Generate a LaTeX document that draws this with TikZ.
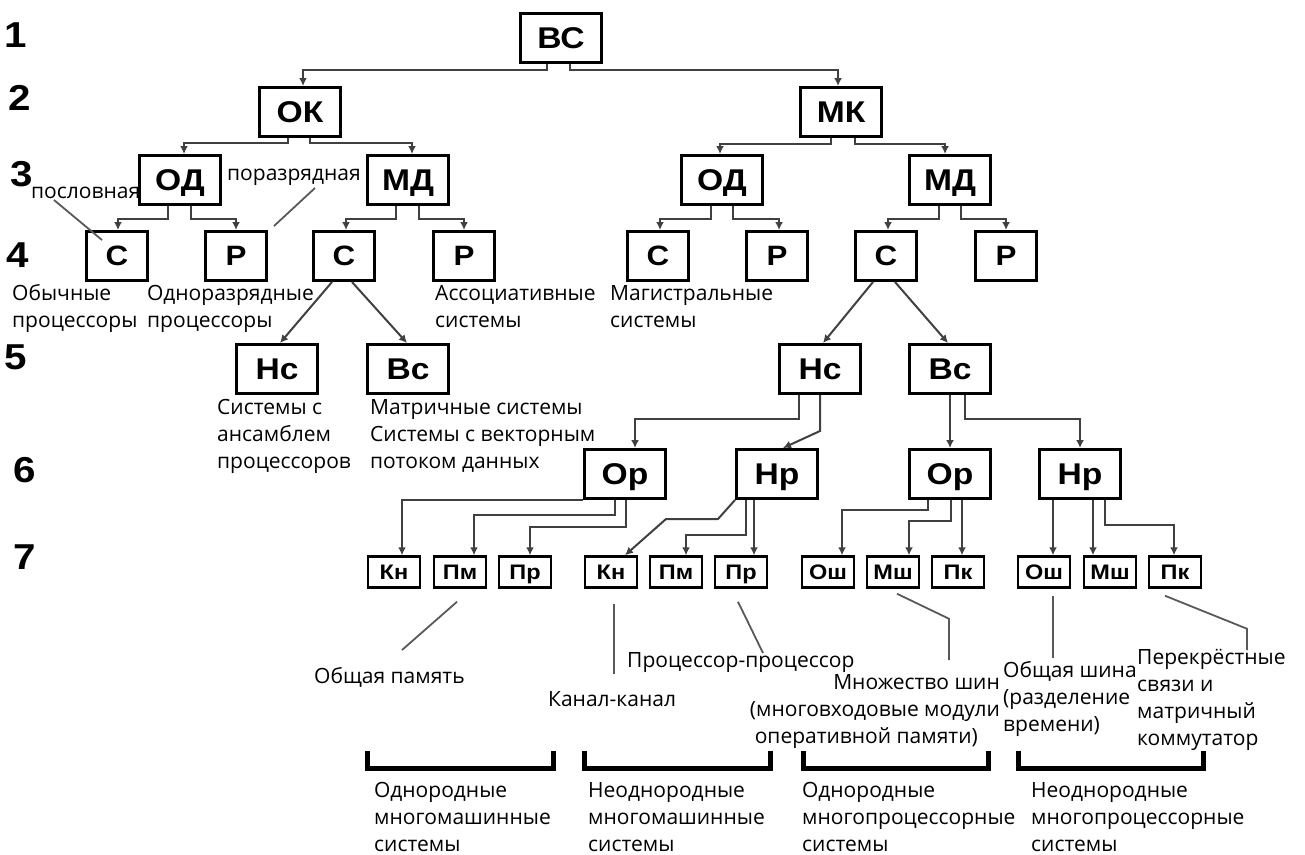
\documentclass[tikz,border=0pt]{standalone}
\usepackage{fontspec}
\setmainfont{Open Sans}
\newfontfamily\boxfont[FakeStretch=1.12]{Liberation Sans}
\usetikzlibrary{arrows.meta,calc}

\begin{document}
\begin{tikzpicture}
[
x=1pt, y=-1pt,
>={Latex[length=8pt,width=8pt]},
box/.style={rectangle, draw=black, line width=3pt, minimum width=81pt, minimum height=49pt, inner sep=0pt, text depth=0pt, font=\boxfont\bfseries\fontsize{30}{30}\selectfont},
midbox/.style={box, minimum width=61pt, font=\boxfont\bfseries\fontsize{28}{28}\selectfont},
leaf/.style={box, line width=2.5pt, minimum width=52pt, minimum height=31pt, font=\boxfont\bfseries\fontsize{21}{21}\selectfont},
lvlnum/.style={inner sep=0pt, font=\boxfont\bfseries\fontsize{36}{36}\selectfont},
note/.style={inner sep=0pt, align=left, anchor=base west, font=\fontsize{21}{27}\selectfont},
link/.style={->, draw=black!75, line width=2pt},
lead/.style={draw=black!65, line width=1.8pt},
bracket/.style={line width=5pt, line join=miter}
]
\useasboundingbox (0,0) rectangle (1305,854);

%Nodes
\node[lvlnum]   (n1)    at (16,35)      {1};
\node[lvlnum]   (n2)    at (20,98)      {2};
\node[lvlnum]   (n3)    at (22,174)     {3};
\node[lvlnum]   (n4)    at (18,255)     {4};
\node[lvlnum]   (n5)    at (16,357)     {5};
\node[lvlnum]   (n6)    at (25,470)     {6};
\node[lvlnum]   (n7)    at (25,557)     {7};

\node[box]      (vc)    at (561,38)     {ВС};
\node[box]      (ok)    at (300,112)    {ОК};
\node[box]      (mk)    at (841,112)    {МК};
\node[box]      (odL)   at (180,180)    {ОД};
\node[box]      (mdL)   at (408,180)    {МД};
\node[box]      (odR)   at (722,180)    {ОД};
\node[box]      (mdR)   at (950,180)    {МД};

\node[midbox]   (cL1)   at (117,256)    {С};
\node[midbox]   (rL1)   at (236,256)    {Р};
\node[midbox]   (cL2)   at (344,256)    {С};
\node[midbox]   (rL2)   at (464,256)    {Р};
\node[midbox]   (cR1)   at (658,256)    {С};
\node[midbox]   (rR1)   at (777,256)    {Р};
\node[midbox]   (cR2)   at (886,256)    {С};
\node[midbox]   (rR2)   at (1006,256)   {Р};

\node[box]      (ncL)   at (277,369)    {Нс};
\node[box]      (vcL)   at (408,369)    {Вс};
\node[box]      (ncR)   at (820,369)    {Нс};
\node[box]      (vcR)   at (950,369)    {Вс};

\node[box]      (orA)   at (625,474)    {Ор};
\node[box]      (nrA)   at (777,474)    {Нр};
\node[box]      (orB)   at (950,474)    {Ор};
\node[box]      (nrB)   at (1080,474)   {Нр};

\node[leaf]     (knA)   at (394,572)    {Кн};
\node[leaf]     (pmA)   at (460,572)    {Пм};
\node[leaf]     (prA)   at (525,572)    {Пр};
\node[leaf]     (knB)   at (611,572)    {Кн};
\node[leaf]     (pmB)   at (676,572)    {Пм};
\node[leaf]     (prB)   at (741,572)    {Пр};
\node[leaf]     (oshA)  at (828,572)    {Ош};
\node[leaf]     (mshA)  at (893,572)    {Мш};
\node[leaf]     (pkA)   at (958,572)    {Пк};
\node[leaf]     (oshB)  at (1044,572)   {Ош};
\node[leaf]     (mshB)  at (1110,572)   {Мш};
\node[leaf]     (pkB)   at (1175,572)   {Пк};

%Labels (multi-line: placed by the baseline of the last line)
\node[note]     (lbPosl)    at (31,198)     {пословная};
\node[note]     (lbPorazr)  at (227,180)    {поразрядная};
\node[note]     (lbObych)   at (12,327)     {Обычные\\процессоры};
\node[note]     (lbOdnor)   at (147,327)    {Одноразрядные\\процессоры};
\node[note]     (lbAssoc)   at (435,327)    {Ассоциативные\\системы};
\node[note]     (lbMagistr) at (610,327)    {Магистральные\\системы};
\node[note]     (lbAnsambl) at (217,468)    {Системы с\\ансамблем\\процессоров};
\node[note]     (lbMatr)    at (370,468)    {Матричные системы\\Системы с векторным\\потоком данных};
\node[note]     (lbPamyat)  at (314,683)    {Общая память};
\node[note]     (lbProc)    at (627,667)    {Процессор-процессор};
\node[note]     (lbKanal)   at (548,706)    {Канал-канал};
\node[note, align=right, anchor=base east] (lbShin) at (1000,743) {Множество шин\\(многовходовые модули\\оперативной памяти)\hspace*{22pt}};
\node[note]     (lbObshShina) at (1003,731) {Общая шина\\(разделение\\времени)};
\node[note]     (lbPerekr)  at (1137,745)   {Перекрёстные\\связи и\\матричный\\коммутатор};
\node[note]     (lbOmm)     at (374,851)    {Однородные\\многомашинные\\системы};
\node[note]     (lbNmm)     at (588,851)    {Неоднородные\\многомашинные\\системы};
\node[note]     (lbOmp)     at (802,851)    {Однородные\\многопроцессорные\\системы};
\node[note]     (lbNmp)     at (1031,851)   {Неоднородные\\многопроцессорные\\системы};

%Lines
\draw[link] ([xshift=-14pt]vc.south) -- ++(0,6) -| ([xshift=3pt]ok.north);
\draw[link] ([xshift=9pt]vc.south) -- ++(0,6) -| ([xshift=-3pt]mk.north);
\draw[link] ([xshift=-12pt]ok.south) -- ++(0,5) -| ([xshift=4pt]odL.north);
\draw[link] ([xshift=10pt]ok.south) -- ++(0,5) -| ([xshift=4pt]mdL.north);
\draw[link] ([xshift=-10pt]mk.south) -- ++(0,6) -| ([xshift=-2pt]odR.north);
\draw[link] ([xshift=14pt]mk.south) -- ++(0,6) -| ([xshift=-5pt]mdR.north);

\draw[link] ([xshift=-12pt]odL.south) -- ++(0,13) -| ([xshift=1pt]cL1.north);
\draw[link] ([xshift=11pt]odL.south) -- ++(0,13) -| (rL1.north);
\draw[link] ([xshift=-12pt]mdL.south) -- ++(0,13) -| ([xshift=2pt]cL2.north);
\draw[link] ([xshift=11pt]mdL.south) -- ++(0,13) -| (rL2.north);
\draw[link] ([xshift=-11pt]odR.south) -- ++(0,13) -| ([xshift=2pt]cR1.north);
\draw[link] ([xshift=11pt]odR.south) -- ++(0,13) -| ([xshift=2pt]rR1.north);
\draw[link] ([xshift=-11pt]mdR.south) -- ++(0,13) -| ([xshift=2pt]cR2.north);
\draw[link] ([xshift=11pt]mdR.south) -- ++(0,13) -| (rR2.north);

\draw[link] ([xshift=-12pt]cL2.south) -- ([xshift=3pt]ncL.north);
\draw[link] ([xshift=8pt]cL2.south) -- ([xshift=-1pt]vcL.north);
\draw[link] ([xshift=-13pt]cR2.south) -- ([xshift=3pt]ncR.north);
\draw[link] ([xshift=9pt]cR2.south) -- ([xshift=-2pt]vcR.north);

\draw[link] ([xshift=-21pt]ncR.south) -- ++(0,24) -| ([xshift=10pt]orA.north);
\draw[link] (ncR.south) -- ++(0,36) -- ([xshift=6pt]nrA.north);
\draw[link] (vcR.south) -- (orB.north);
\draw[link] ([xshift=15pt]vcR.south) -- ++(0,24) -| (nrB.north);

\draw[link] (orA.south west) -| ([xshift=8pt]knA.north);
\draw[link] ([xshift=-10pt]orA.south) -- ++(0,15) -| ([xshift=14pt]pmA.north);
\draw[link] ([xshift=1pt]orA.south) -- ++(0,27) -| ([xshift=5pt]prA.north);
\draw[link] (nrA.south west) -- ++(-17,19) -- ++(-52,0) -- ([xshift=14pt]knB.north);
\draw[link] ([xshift=-31pt]nrA.south) -- ++(0,35) -| ([xshift=10pt]pmB.north);
\draw[link] ([xshift=-23pt]nrA.south) -- ([xshift=13pt]prB.north);
\draw[link] ([xshift=-22pt]orB.south) -- ++(0,10) -| ([xshift=14pt]oshA.north);
\draw[link] ([xshift=1pt]orB.south) -- ++(0,21) -| ([xshift=16pt]mshA.north);
\draw[link] ([xshift=12pt]orB.south) -- ([xshift=4pt]pkA.north);
\draw[link] ([xshift=-27pt]nrB.south) -- ([xshift=9pt]oshB.north);
\draw[link] ([xshift=13pt]nrB.south) -- ([xshift=-17pt]mshB.north);
\draw[link] ([xshift=25pt]nrB.south) -- ++(0,25) -| ([xshift=-1pt]pkB.north);

%Leaders
\draw[lead] ($(lbPosl.base west)+(23,2)$) -- ($(cL1.north)+(-15,10)$);
\draw[lead] ($(lbPorazr.base west)+(88,8)$) -- ($(rL1.north east)+(6,-4)$);
\draw[lead] ($(pmA.south)+(-3,13)$) -- ($(lbPamyat.base west)+(88,-33)$);
\draw[lead] ($(knB.south)+(3,15)$) -- ($(lbKanal.base west)+(66,-32)$);
\draw[lead] ($(prB.south)+(-3,13)$) -- ($(lbProc.base west)+(136,-14)$);
\draw[lead] ($(mshA.south)+(4,5)$) -- ++(52,25) -- ($(lbShin.base east)+(-51,-83)$);
\draw[lead] ($(oshB.south)+(9,7)$) -- ($(lbObshShina.base west)+(50,-73)$);
\draw[lead] ($(pkB.south)+(-10,7)$) -- ++(82,33) -- ($(lbPerekr.base west)+(110,-95)$);

%Brackets
\foreach \xa/\xb in {367/553, 584/770, 803/988, 1018/1203}
  \draw[bracket] (\xa,751) -- (\xa,768) -- (\xb,768) -- (\xb,751);

\end{tikzpicture}
\end{document}
